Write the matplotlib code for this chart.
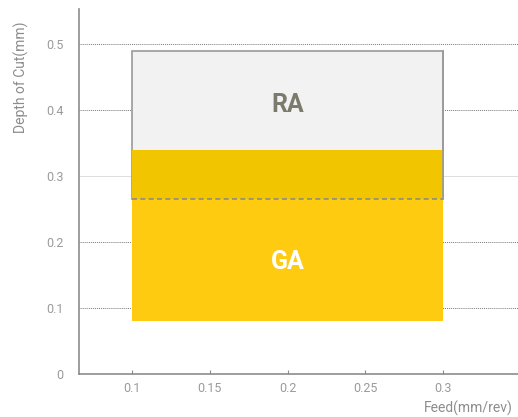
import matplotlib.pyplot as plt
from matplotlib.patches import Rectangle

plt.rcParams['font.family'] = ['Roboto', 'DejaVu Sans']

# chipbreaker ranges
names = ['RA', 'GA']
feed_min = [0.1, 0.1]
feed_max = [0.3, 0.3]
doc_min = [0.265, 0.08]
doc_max = [0.49, 0.34]

xticks = [0.1, 0.15, 0.2, 0.25, 0.3]
xticklabels = ['0.1', '0.15', '0.2', '0.25', '0.3']
yticks = [0, 0.1, 0.2, 0.3, 0.4, 0.5]
yticklabels = ['0', '0.1', '0.2', '0.3', '0.4', '0.5']

fig = plt.figure(figsize=(5.18, 4.17), dpi=100)
ax = fig.add_axes([0.1525, 0.1031, 0.8475, 0.875])
ax.set_xlim(0.066, 0.348)
ax.set_ylim(0, 0.553)

# RA box
ax.add_patch(Rectangle((feed_min[0], doc_min[0]), feed_max[0] - feed_min[0],
                       doc_max[0] - doc_min[0], facecolor='#f2f2f2',
                       edgecolor='#9a9a9a', linewidth=1.2, zorder=2))
# GA box
ax.add_patch(Rectangle((feed_min[1], doc_min[1]), feed_max[1] - feed_min[1],
                       doc_max[1] - doc_min[1], facecolor='#fecb10',
                       edgecolor='none', zorder=3))
# overlap
ov_lo = max(doc_min)
ov_hi = min(doc_max)
ax.add_patch(Rectangle((feed_min[0], ov_lo), feed_max[0] - feed_min[0],
                       ov_hi - ov_lo, facecolor='#f1c500', edgecolor='none', zorder=4))
ax.plot([feed_min[0], feed_max[0]], [ov_lo, ov_lo], color='#8c8c8c',
        linestyle=(0, (3, 2)), linewidth=1.2, zorder=5)
ax.plot([feed_max[0], feed_max[0]], [ov_lo, doc_max[0]], color='#9a9a9a',
        linewidth=1.2, zorder=5)

ax.text((feed_min[0] + feed_max[0]) / 2, 0.408, names[0], color='#7b7b6d',
        fontsize=18, fontweight='bold', ha='center', va='center', zorder=6)
ax.text((feed_min[1] + feed_max[1]) / 2, 0.17, names[1], color='white',
        fontsize=18, fontweight='bold', ha='center', va='center', zorder=6)

ax.set_xticks(xticks)
ax.set_xticklabels(xticklabels)
ax.set_yticks(yticks)
ax.set_yticklabels(yticklabels)
ax.tick_params(axis='both', direction='in', colors='#8c8c8c', labelcolor='#9a9a9a',
               labelsize=9, length=3, pad=6)
ax.tick_params(axis='y', length=0, pad=11)

ax.yaxis.grid(True, color='#7a7a7a', linestyle=(0, (1, 1)), linewidth=0.7, zorder=0)
ax.set_axisbelow(True)
for t, gl in zip(yticks, ax.yaxis.get_gridlines()):
    if t == 0:
        gl.set_visible(False)
    elif t == 0.3:
        gl.set_color('#dddddd')
        gl.set_linestyle('-')

for s in ['top', 'right']:
    ax.spines[s].set_visible(False)
for s in ['left', 'bottom']:
    ax.spines[s].set_color('#8c8c8c')
    ax.spines[s].set_linewidth(1.2)

fig.text(0.042, 0.815, 'Depth of Cut(mm)', rotation=90, color='#8c8c8c',
         fontsize=10, ha='center', va='center')
fig.text(0.99, 0.02, 'Feed(mm/rev)', color='#8c8c8c', fontsize=10,
         ha='right', va='center')

fig.savefig('out.png', dpi=100)
